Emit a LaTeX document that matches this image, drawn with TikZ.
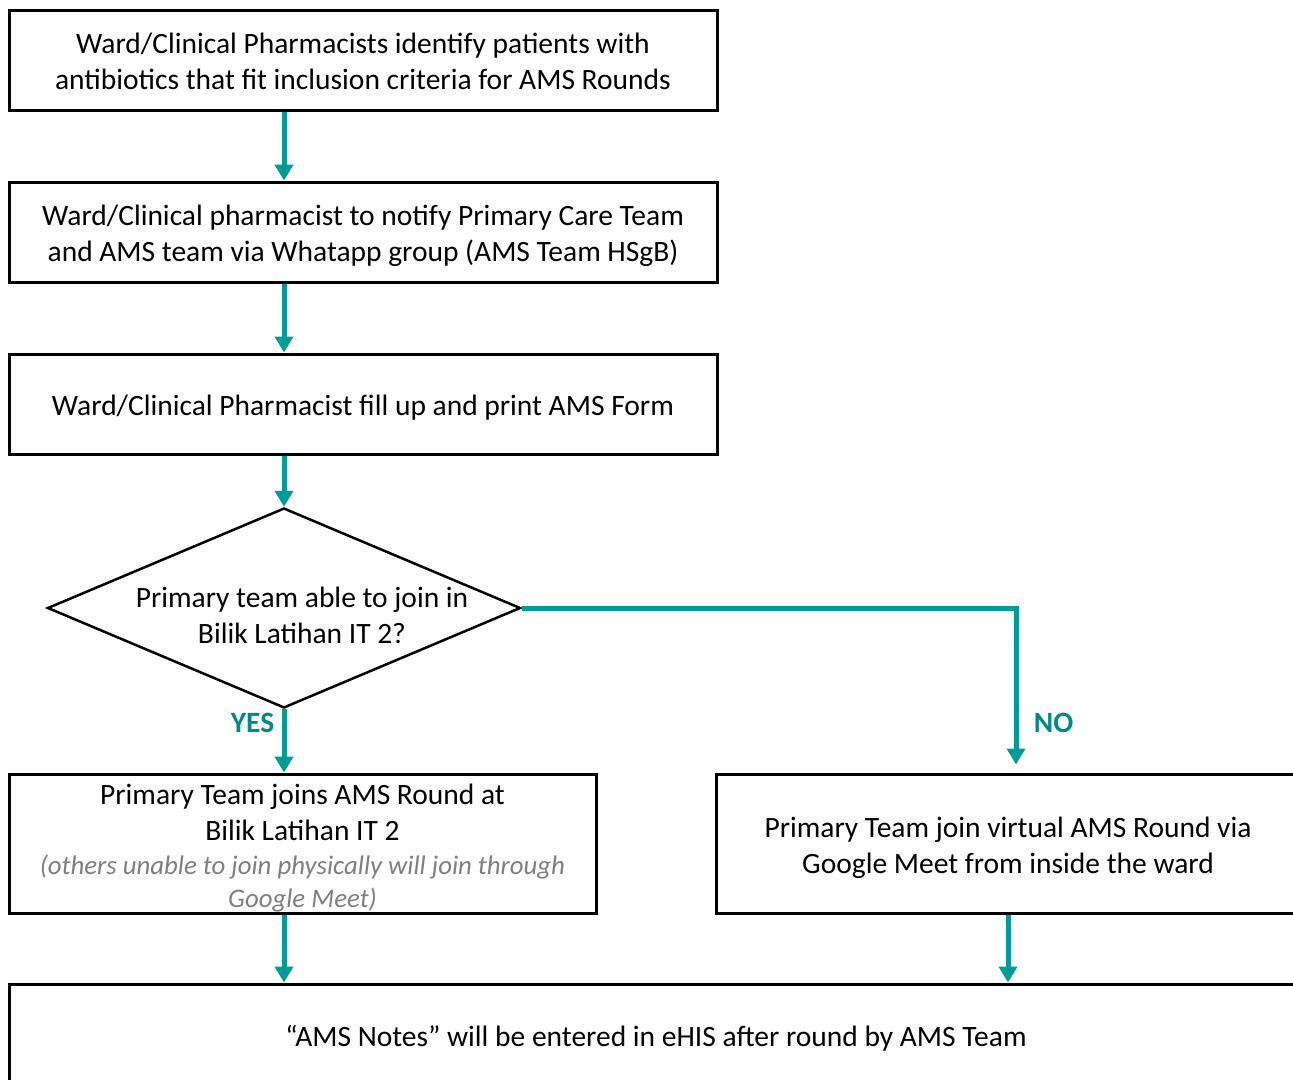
\documentclass[tikz,border=0pt]{standalone}
\usepackage{fontspec}
\setmainfont{Carlito}
\usetikzlibrary{shapes.geometric, arrows.meta, positioning, calc}
\definecolor{FlowTeal}{HTML}{009C9A}
\definecolor{LabelTeal}{HTML}{008A86}
\definecolor{NoteGray}{HTML}{7F7F7F}
\newcommand{\sidenote}[1]{\textcolor{NoteGray}{\fontsize{26.8}{32}\selectfont\itshape #1}}

\begin{document}
\begin{tikzpicture}[x=1pt, y=-1pt,
        node distance=69pt and 120pt,
        every node/.style={font=\fontsize{29.5}{36}\selectfont},
        box/.style={rectangle, draw=black, line width=3pt, align=center, inner sep=0pt},
        widebox/.style={box, minimum width=708pt, minimum height=100pt},
        tallbox/.style={box, minimum height=139pt},
        decision/.style={diamond, draw=black, line width=2.5pt, minimum width=473pt, minimum height=200pt, inner sep=0pt},
        flow/.style={-{Triangle[width=18pt,length=16pt]}, line width=5pt, FlowTeal},
        answer/.style={font=\fontsize{29.5}{32}\selectfont\bfseries, text=LabelTeal}
      ]
        \clip (0,0) rectangle (1293,1079);

        % Nodes
        \node[widebox] (identify) at (363,60) {\rule{0pt}{24pt}Ward/Clinical Pharmacists identify patients with \\ antibiotics that fit inclusion criteria for AMS Rounds};
        \node[widebox, below=of identify] (notify) {\rule{0pt}{28pt}Ward/Clinical pharmacist to notify Primary Care Team \\ and AMS team via Whatapp group (AMS Team HSgB)};
        \node[widebox, below=of notify] (form) {\rule{0pt}{28pt}Ward/Clinical Pharmacist fill up and print AMS Form};
        \node[decision] (join) at (284,608) {};
        \node[align=center] (joinText) at (302,615) {Primary team able to join in \\ Bilik Latihan IT 2?};
        \node[tallbox, minimum width=587pt] (physical) at (302.5,843.5) {\rule{0pt}{29pt}Primary Team joins AMS Round at \\ Bilik Latihan IT 2 \\[-2pt]
          \sidenote{(others unable to join physically will join through} \\[-3pt] \sidenote{Google Meet)}};
        \node[tallbox, minimum width=584pt] (virtual) at (1008,843.5) {\rule{0pt}{29pt}Primary Team join virtual AMS Round via \\ Google Meet from inside the ward};
        \node[box, minimum width=1294pt, minimum height=104pt] (notes) at (656,1036) {\rule{0pt}{25pt}“AMS Notes” will be entered in eHIS after round by AMS Team};

        % Connections
        \draw[flow] (identify.south -| join) -- (notify.north -| join);
        \draw[flow] (notify.south -| join) -- (form.north -| join);
        \draw[flow] (form.south -| join) -- (join.north);
        \draw[flow] (join.south) -- node[answer, left=4pt, pos=0.22] {YES} (physical.north -| join.south);
        \draw[flow, shorten >=8pt] (join.east) -| node[answer, right=12pt, pos=0.85] {NO} ([xshift=8pt]virtual.north);
        \draw[flow] (physical.south -| join) -- (notes.north -| join);
        \draw[flow] (virtual.south) -- (notes.north -| virtual);
      \end{tikzpicture}
\end{document}
